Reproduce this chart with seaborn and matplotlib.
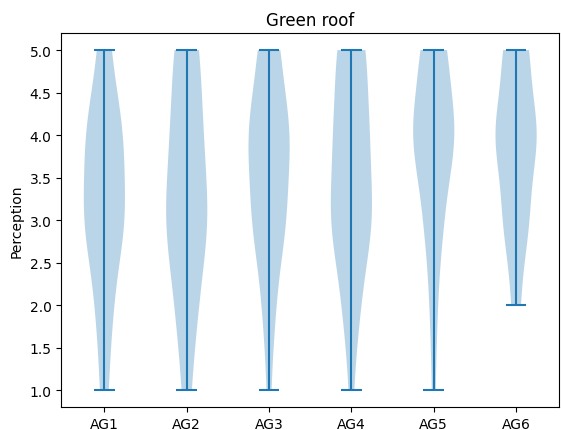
import numpy as np
import matplotlib
matplotlib.use("Agg")
import matplotlib.pyplot as plt
import seaborn as sns

# Likert answers (1-5), counts per level
levels = [1, 2, 3, 4, 5]
groups = ["AG1", "AG2", "AG3", "AG4", "AG5", "AG6"]
ag1_counts = [2, 4, 10, 9, 3]
ag2_counts = [2, 5, 10, 7, 6]
ag3_counts = [1, 3, 8, 10, 5]
ag4_counts = [1, 4, 10, 8, 7]
ag5_counts = [1, 2, 5, 12, 7]
ag6_counts = [0, 2, 6, 10, 6]

all_counts = [ag1_counts, ag2_counts, ag3_counts, ag4_counts, ag5_counts, ag6_counts]
data = [np.repeat(levels, c) for c in all_counts]

color = sns.color_palette("tab10")[0]

fig, ax = plt.subplots(figsize=(5.61, 4.31), dpi=100)
fig.subplots_adjust(left=0.109, right=0.997, top=0.921, bottom=0.053)

parts = ax.violinplot(data)
for body in parts["bodies"]:
    body.set_facecolor(color)
    body.set_alpha(0.3)
for key in ["cbars", "cmins", "cmaxes"]:
    parts[key].set_color(color)

ax.set_xticks(range(1, len(groups) + 1))
ax.set_xticklabels(groups)
ax.set_title("Green roof")
ax.set_ylabel("Perception")

plt.savefig("out.png", dpi=100)
